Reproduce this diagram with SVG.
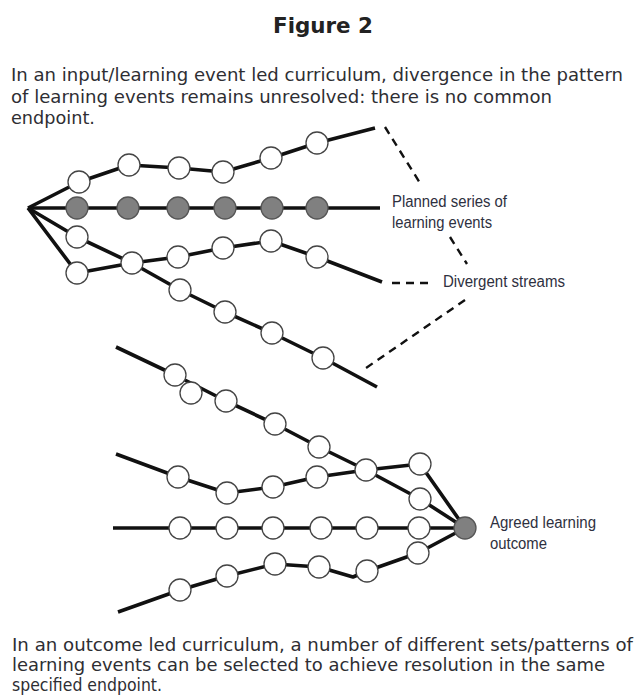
<svg xmlns="http://www.w3.org/2000/svg" width="639" height="698" viewBox="0 0 639 698">
  <style>
    .bg { fill: #ffffff; }
    .title { font-family: "DejaVu Sans", Verdana, sans-serif; font-weight: bold; font-size: 22px; fill: #222222; }
    .body { font-family: "DejaVu Sans", Verdana, sans-serif; font-size: 18px; fill: #2e2e33; }
    .label { font-family: "Liberation Sans", Arial, sans-serif; font-size: 16px; fill: #2e3040; }
    .stream { fill: none; stroke: #111111; stroke-width: 3.6; stroke-linejoin: round; }
    .lead { fill: none; stroke: #111111; stroke-width: 2.4; stroke-dasharray: 8 6; }
    .ev { fill: #ffffff; stroke: #444444; stroke-width: 1.3; }
    .key { fill: #808080; stroke: #555555; stroke-width: 1.3; }
  </style>
  <defs>
    <circle id="e" r="11" class="ev"/>
    <circle id="k" r="11" class="key"/>
  </defs>
  <rect class="bg" x="0" y="0" width="639" height="698"/>

  <!-- heading and captions -->
  <text class="title" x="273" y="33" textLength="100" lengthAdjust="spacingAndGlyphs">Figure 2</text>
  <g id="caption-top">
    <text class="body" x="11" y="81" textLength="612" lengthAdjust="spacingAndGlyphs">In an input/learning event led curriculum, divergence in the pattern</text>
    <text class="body" x="11" y="103" textLength="541" lengthAdjust="spacingAndGlyphs">of learning events remains unresolved: there is no common</text>
    <text class="body" x="11" y="124" textLength="84" lengthAdjust="spacingAndGlyphs">endpoint.</text>
  </g>
  <g id="caption-bottom">
    <text class="body" x="12" y="651" textLength="621" lengthAdjust="spacingAndGlyphs">In an outcome led curriculum, a number of different sets/patterns of</text>
    <text class="body" x="12" y="671" textLength="593" lengthAdjust="spacingAndGlyphs">learning events can be selected to achieve resolution in the same</text>
    <text class="body" x="12" y="691" textLength="150" lengthAdjust="spacingAndGlyphs">specified endpoint.</text>
  </g>

  <!-- connectors: learning-event streams and dashed leaders -->
  <g id="connectors">
    <!-- diverging streams from a common start -->
    <polyline class="stream" points="28,208 79,182 129,165 179,168 223,172 271,158 317,143 375,128"/>
    <polyline class="stream" points="28,208 380,208"/>
    <polyline class="stream" points="28,208 77,237 132,263 180,290 225,312 272,333 323,358 377,387"/>
    <polyline class="stream" points="28,208 77,273 132,263 178,257 223,248 271,241 317,257 382,282"/>
    <!-- converging streams to a shared outcome -->
    <polyline class="stream" points="116,347 175,375 226,401 275,424 319,447 366,470 420,499 465,528"/>
    <polyline class="stream" points="116,454 178,477 227,493 273,487 317,477 366,470 420,464 465,528"/>
    <polyline class="stream" points="113,528 465,528"/>
    <polyline class="stream" points="118,612 180,590 227,576 275,564 319,567 353,577 367,571 418,553 465,528"/>
    <!-- dashed leaders -->
    <line class="lead" x1="385" y1="127" x2="420" y2="183"/>
    <line class="lead" x1="450" y1="237" x2="467" y2="264"/>
    <line class="lead" x1="392" y1="283" x2="432" y2="283"/>
    <line class="lead" x1="465" y1="300" x2="363" y2="370"/>
  </g>

  <!-- divergent pattern nodes -->
  <g id="stream-upper">
    <use href="#e" x="79" y="182"/><use href="#e" x="129" y="165"/><use href="#e" x="179" y="168"/>
    <use href="#e" x="223" y="172"/><use href="#e" x="271" y="158"/><use href="#e" x="317" y="143"/>
  </g>
  <g id="stream-planned">
    <use href="#k" x="77" y="208"/><use href="#k" x="128" y="208"/><use href="#k" x="178" y="208"/>
    <use href="#k" x="225" y="208"/><use href="#k" x="272" y="208"/><use href="#k" x="317" y="208"/>
  </g>
  <g id="stream-diagonal">
    <use href="#e" x="77" y="237"/><use href="#e" x="180" y="290"/><use href="#e" x="225" y="312"/>
    <use href="#e" x="272" y="333"/><use href="#e" x="323" y="358"/>
  </g>
  <g id="stream-lower">
    <use href="#e" x="77" y="273"/><use href="#e" x="132" y="263"/><use href="#e" x="178" y="257"/>
    <use href="#e" x="223" y="248"/><use href="#e" x="271" y="241"/><use href="#e" x="317" y="257"/>
  </g>

  <!-- convergent pattern nodes -->
  <g id="route-1">
    <use href="#e" x="175" y="375"/><use href="#e" x="191" y="393"/><use href="#e" x="226" y="401"/>
    <use href="#e" x="275" y="424"/><use href="#e" x="319" y="447"/><use href="#e" x="420" y="499"/>
  </g>
  <g id="route-2">
    <use href="#e" x="178" y="477"/><use href="#e" x="227" y="493"/><use href="#e" x="273" y="487"/>
    <use href="#e" x="317" y="477"/><use href="#e" x="366" y="470"/><use href="#e" x="420" y="464"/>
  </g>
  <g id="route-3">
    <use href="#e" x="180" y="528"/><use href="#e" x="227" y="528"/><use href="#e" x="273" y="528"/>
    <use href="#e" x="321" y="528"/><use href="#e" x="367" y="528"/><use href="#e" x="419" y="528"/>
  </g>
  <g id="route-4">
    <use href="#e" x="180" y="590"/><use href="#e" x="227" y="576"/><use href="#e" x="275" y="564"/>
    <use href="#e" x="319" y="567"/><use href="#e" x="367" y="571"/><use href="#e" x="418" y="553"/>
  </g>
  <g id="outcome">
    <use href="#k" x="465" y="528"/>
  </g>

  <!-- labels -->
  <g id="label-planned">
    <text class="label" x="392" y="207" textLength="115" lengthAdjust="spacingAndGlyphs">Planned series of</text>
    <text class="label" x="392" y="228" textLength="100" lengthAdjust="spacingAndGlyphs">learning events</text>
  </g>
  <g id="label-divergent">
    <text class="label" x="443" y="287" textLength="122" lengthAdjust="spacingAndGlyphs">Divergent streams</text>
  </g>
  <g id="label-outcome">
    <text class="label" x="490" y="528" textLength="106" lengthAdjust="spacingAndGlyphs">Agreed learning</text>
    <text class="label" x="490" y="549" textLength="57" lengthAdjust="spacingAndGlyphs">outcome</text>
  </g>
</svg>
